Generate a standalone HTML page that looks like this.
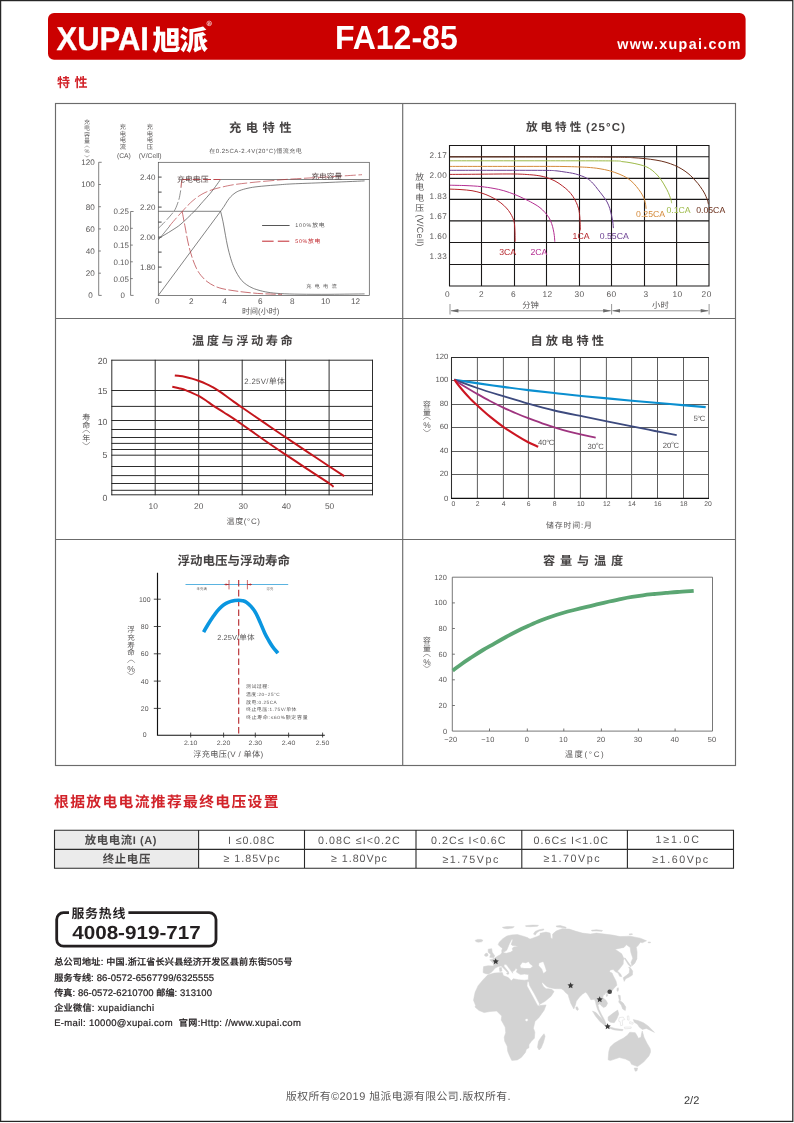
<!DOCTYPE html>
<html lang="zh-CN"><head><meta charset="utf-8"><title>XUPAI FA12-85 - 特性 2/2</title>
<style>html,body{margin:0;padding:0;background:#fff}body{width:794px;height:1123px;overflow:hidden;font-family:"Liberation Sans","Noto Sans CJK SC",sans-serif}svg{display:block;will-change:transform}text{font-family:"Liberation Sans","Noto Sans CJK SC",sans-serif;text-rendering:geometricPrecision}</style></head>
<body>
<svg width="794" height="1123" viewBox="0 0 794 1123" role="img" aria-label="XUPAI FA12-85 battery datasheet, page 2/2: characteristic curves">
<rect x="0.6" y="0.6" width="792.2" height="1120.8" fill="#fff" stroke="#262626" stroke-width="1.25"/>
<rect x="48" y="13" width="697.6" height="46.7" rx="6" ry="6" fill="#cb0000"/>
<g fill="#fff" font-weight="bold"><text stroke="#fff" stroke-width="0.3" stroke-linejoin="round" transform="translate(56.5 49.9) scale(1 1.11)" font-size="29.68" textLength="92.4" lengthAdjust="spacingAndGlyphs">XUPAI</text><text transform="translate(334.9 48.5) scale(1 1.095)" font-size="30.7" textLength="122.8" lengthAdjust="spacingAndGlyphs">FA12-85</text><text transform="translate(617.2 49.3) scale(1 1.04)" font-size="14.3" textLength="123.4" lengthAdjust="spacing">www.xupai.com</text></g>
<text transform="translate(152.6 49.7) scale(1 0.975)" x="0 27" font-size="28.4" font-weight="900" fill="#fff">旭派</text>
<circle cx="209.2" cy="23.4" r="2.3" fill="none" stroke="#fff" stroke-width="0.6"/><text x="209.2" y="24.7" font-size="3.6" font-weight="bold" fill="#fff" text-anchor="middle">R</text>
<g fill="#d2232a"><title>特性</title><text x="57 74.4" y="87.3" font-size="13" font-weight="bold">特性</text></g>
<g fill="none" stroke="#6b6b6b" stroke-width="1.15"><rect x="55.5" y="103.5" width="680" height="662"/><path d="M402.7 103.5V765.5M55.5 318.5H735.5M55.5 539.5H735.5"/></g>
<!-- chart 1: charge characteristics -->
<g fill="#454242"><title>充电特性</title><text x="229.1 245.8 262.5 279.2" y="131.6" font-size="12.3" font-weight="bold">充电特性</text></g>
<g fill="#595757"><title>在0.25CA-2.4V(20°C)恒流充电</title><text x="209.2" y="153.2" font-size="6">在</text><text x="215.71" y="153.20" font-size="6.00" letter-spacing="0.511">0.25CA-2.4V(20°C)</text><text x="276.16 282.67 289.18 295.69" y="153.2" font-size="6">恒流充电</text></g>
<g fill="#595757"><title>充电容量</title><text x="84 84 84 84" y="123.58 130.18 136.78 143.38" font-size="6">充电容量</text></g>
<path d="M84.70 147.66Q87.00 144.34 89.30 147.66M84.70 155.24Q87.00 158.56 89.30 155.24" fill="none" stroke="#595757" stroke-width="0.45"/>
<text x="87.00" y="153.40" font-size="5.6" fill="#595757" text-anchor="middle" >%</text>
<g fill="#595757"><title>充电电流</title><text x="119.85 119.85 119.85 119.85" y="128.74 135.59 142.44 149.29" font-size="6.3">充电电流</text></g>
<text x="123.90" y="157.50" font-size="6.8" fill="#595757" text-anchor="middle" >(CA)</text>
<g fill="#595757"><title>充电电压</title><text x="146.85 146.85 146.85 146.85" y="128.74 135.59 142.44 149.29" font-size="6.3">充电电压</text></g>
<text x="150.20" y="157.50" font-size="6.8" fill="#595757" text-anchor="middle" >(V/Cell)</text>
<g fill="none" stroke="#4d4d4d" stroke-width="0.7">
<rect x="158.3" y="162.3" width="211" height="133.1"/>
<path d="M158.3 177.1h3.3M158.3 192.1h3.3M158.3 207.1h3.3M158.3 222.1h3.3M158.3 237.1h3.3M158.3 252.1h3.3M158.3 267.1h3.3M158.3 282.1h3.3" stroke="#3c3c3c" stroke-width="0.95"/>
<path d="M101.7 162.3H98.7V295.4H101.7M98.7 273.2h2.2M98.7 251.0h2.2M98.7 228.9h2.2M98.7 206.7h2.2M98.7 184.5h2.2"/>
<path d="M133.6 211.5H130.6V295.4H133.6M130.6 278.6h2.2M130.6 261.8h2.2M130.6 245.1h2.2M130.6 228.3h2.2"/>
</g>
<text x="92.80" y="298.30" font-size="8.1" fill="#595757" text-anchor="end" >0</text>
<text x="94.80" y="276.12" font-size="8.1" fill="#595757" text-anchor="end" >20</text>
<text x="94.80" y="253.94" font-size="8.1" fill="#595757" text-anchor="end" >40</text>
<text x="94.80" y="231.76" font-size="8.1" fill="#595757" text-anchor="end" >60</text>
<text x="94.80" y="209.58" font-size="8.1" fill="#595757" text-anchor="end" >80</text>
<text x="94.80" y="187.40" font-size="8.1" fill="#595757" text-anchor="end" >100</text>
<text x="94.80" y="165.22" font-size="8.1" fill="#595757" text-anchor="end" >120</text>
<text x="124.90" y="298.30" font-size="7.9" fill="#595757" text-anchor="end" >0</text>
<text x="128.90" y="281.52" font-size="7.9" fill="#595757" text-anchor="end" >0.05</text>
<text x="128.90" y="264.74" font-size="7.9" fill="#595757" text-anchor="end" >0.10</text>
<text x="128.90" y="247.96" font-size="7.9" fill="#595757" text-anchor="end" >0.15</text>
<text x="128.90" y="231.18" font-size="7.9" fill="#595757" text-anchor="end" >0.20</text>
<text x="128.90" y="214.40" font-size="7.9" fill="#595757" text-anchor="end" >0.25</text>
<text x="155.50" y="180.00" font-size="8.0" fill="#595757" text-anchor="end" >2.40</text>
<text x="155.50" y="210.00" font-size="8.0" fill="#595757" text-anchor="end" >2.20</text>
<text x="155.50" y="240.00" font-size="8.0" fill="#595757" text-anchor="end" >2.00</text>
<text x="155.50" y="270.00" font-size="8.0" fill="#595757" text-anchor="end" >1.80</text>
<text x="157.30" y="304.40" font-size="8.2" fill="#595757" text-anchor="middle" >0</text>
<text x="191.30" y="304.40" font-size="8.2" fill="#595757" text-anchor="middle" >2</text>
<text x="224.60" y="304.40" font-size="8.2" fill="#595757" text-anchor="middle" >4</text>
<text x="260.20" y="304.40" font-size="8.2" fill="#595757" text-anchor="middle" >6</text>
<text x="292.40" y="304.40" font-size="8.2" fill="#595757" text-anchor="middle" >8</text>
<text x="325.60" y="304.40" font-size="8.2" fill="#595757" text-anchor="middle" >10</text>
<text x="355.60" y="304.40" font-size="8.2" fill="#595757" text-anchor="middle" >12</text>
<g fill="#595757"><title>时间(小时)</title><text x="242.01 250.02" y="313.8" font-size="8">时间</text><text x="258.03" y="313.80" font-size="8.00" letter-spacing="0.012">(</text><text x="260.71 268.72" y="313.8" font-size="8">小时</text><text x="276.73" y="313.80" font-size="8.00" letter-spacing="0.012">)</text></g>
<path d="M158.3 211.3H220.6" fill="none" stroke="#4d4d4d" stroke-width="0.7" />
<path d="M220.6 211.3C220.9 212.4 221.6 215.4 222.2 218.0C222.8 220.6 223.2 222.5 224.0 227.0C224.8 231.5 226.2 239.7 227.3 245.0C228.4 250.3 229.7 254.9 230.8 258.7C231.9 262.4 232.9 264.9 234.0 267.5C235.1 270.1 236.3 272.4 237.6 274.6C238.9 276.8 240.3 278.9 241.8 280.6C243.3 282.3 245.0 283.6 246.7 284.8C248.4 286.0 250.1 286.9 252.0 287.8C253.9 288.7 255.3 289.2 258.0 290.0C260.7 290.8 264.2 291.7 268.0 292.3C271.8 292.9 275.4 293.3 280.7 293.6C286.0 293.9 291.8 294.1 300.0 294.2C308.2 294.3 319.2 294.4 330.0 294.3C340.8 294.2 358.8 294.0 364.6 293.9" fill="none" stroke="#4d4d4d" stroke-width="0.7" />
<path d="M158.3 295.4L220.6 211.3C221.2 210.5 223.0 207.9 224.2 206.2C225.3 204.4 226.4 202.4 227.5 200.8C228.6 199.2 229.6 197.9 230.8 196.6C232.1 195.3 233.5 194.0 235.0 193.0C236.5 192.0 237.7 191.3 239.9 190.5C242.1 189.7 245.0 188.8 248.0 188.2C251.0 187.5 253.5 187.1 258.0 186.6C262.5 186.1 269.3 185.5 275.0 185.1C280.7 184.7 283.7 184.3 292.0 183.9C300.3 183.5 312.9 183.1 325.0 182.6C337.1 182.1 358.0 181.2 364.6 180.9" fill="none" stroke="#4d4d4d" stroke-width="0.7" />
<path d="M158.3 238.6C159.4 237.9 162.7 236.0 165.0 234.6C167.3 233.2 169.3 232.1 172.0 230.3C174.7 228.5 177.3 227.2 181.0 224.0C184.7 220.8 190.6 215.1 194.3 211.3C198.0 207.6 200.3 204.5 203.0 201.5C205.7 198.5 208.3 195.7 210.4 193.2C212.5 190.7 213.8 188.8 215.5 186.5C217.2 184.2 219.7 180.7 220.5 179.5H369.3" fill="none" stroke="#4d4d4d" stroke-width="0.7" />
<path d="M158.3 228.3C159.1 227.6 161.5 225.3 163.0 223.8C164.5 222.3 165.7 221.0 167.1 219.4C168.5 217.8 170.2 216.1 171.5 214.4C172.8 212.7 174.0 211.7 175.2 209.3C176.4 206.9 177.8 203.0 178.7 200.2C179.6 197.3 180.0 194.3 180.4 192.2C180.8 190.1 180.9 188.3 181.0 187.5" fill="none" stroke="#606060" stroke-width="0.7" stroke-dasharray="9.5 2.4"/>
<path d="M181.0 187.5L181.4 183.1L182.2 179.5" fill="none" stroke="#a33" stroke-width="0.8" />
<path d="M158.3 240.0L170.0 225.7" fill="none" stroke="#606060" stroke-width="0.7" />
<path d="M182.2 179.5H220.5" fill="none" stroke="#b3343a" stroke-width="0.9" stroke-dasharray="8 2.4"/>
<path d="M169.5 226.0C170.4 224.9 172.9 221.9 175.0 219.5C177.1 217.1 180.0 213.9 182.2 211.5C184.4 209.1 186.2 207.0 188.0 205.2C189.8 203.4 191.2 202.0 193.0 200.5C194.8 199.0 197.0 197.3 199.0 196.0C201.0 194.7 202.8 193.6 205.0 192.6C207.2 191.6 209.3 190.7 212.0 189.8C214.7 188.9 217.5 188.1 221.0 187.3C224.5 186.5 228.2 185.6 233.0 184.8C237.8 184.0 243.8 183.4 250.0 182.7C256.2 182.0 263.0 181.4 270.0 180.8C277.0 180.2 282.7 179.6 292.0 179.0C301.3 178.4 314.3 177.7 326.0 177.0C337.7 176.3 356.0 175.1 362.0 174.7" fill="none" stroke="#b3343a" stroke-width="0.65" stroke-dasharray="11 2.6"/>
<path d="M182.2 211.5C182.4 212.8 183.1 216.2 183.6 219.0C184.1 221.8 184.7 224.5 185.3 228.0C186.0 231.5 186.7 236.2 187.5 240.0C188.3 243.8 189.1 247.2 190.0 250.5C190.9 253.8 191.9 257.0 193.0 260.0C194.1 263.0 195.2 265.9 196.5 268.5C197.8 271.1 199.2 273.3 201.0 275.5C202.8 277.7 204.8 279.8 207.0 281.5C209.2 283.2 211.5 284.6 214.0 285.8C216.5 287.0 218.8 287.8 222.0 288.6C225.2 289.4 229.0 290.0 233.0 290.6C237.0 291.2 241.2 291.8 246.0 292.3C250.8 292.8 256.0 293.4 262.0 293.7C268.0 294.0 278.7 294.3 282.0 294.4" fill="none" stroke="#b3343a" stroke-width="0.7" stroke-dasharray="10 2.4"/>
<g fill="#5a4a4a"><title>充电电压</title><text x="177 184.9 192.8 200.7" y="181.7" font-size="7.8">充电电压</text></g>
<g fill="#5a4a4a"><title>充电容量</title><text x="311.4 319.1 326.8 334.5" y="178.8" font-size="7.6">充电容量</text></g>
<g fill="#595757"><title>充电电流</title><text x="306.2 314.6 323 331.4" y="287.8" font-size="5.2">充电电流</text></g>
<path d="M262.1 225.5H289.6" fill="none" stroke="#444" stroke-width="0.9" />
<g fill="#595757"><title>100%放电</title><text x="295.30" y="227.10" font-size="5.40" letter-spacing="0.765">100%</text><text x="312.17 318.74" y="227.1" font-size="5.8">放电</text></g>
<path d="M262.1 241.2H289.6" fill="none" stroke="#c1272d" stroke-width="1.0" stroke-dasharray="11.5 4.2"/>
<g fill="#c0272d"><title>50%放电</title><text x="295.30" y="243.20" font-size="5.40" letter-spacing="0.638">50%</text><text x="308.02 314.46" y="243.2" font-size="5.8">放电</text></g>
<!-- chart 2: discharge characteristics -->
<g fill="#454242"><title>放电特性</title><text x="525.9 540.5 555.1 569.7" y="131.3" font-size="11.6" font-weight="bold">放电特性</text></g>
<text x="586.00" y="131.00" font-size="11.4" fill="#454242" font-weight="bold" letter-spacing="1.2" >(25°C)</text>
<path d="M449.5 145.0V286.5M481.5 145.0V286.5M514.5 145.0V286.5M546.5 145.0V286.5M579.5 145.0V286.5M611.5 145.0V286.5M644.5 145.0V286.5M676.6 145.0V286.5M709.0 145.0V286.5M449.0 145.5H709.5M449.0 156.8H709.5M449.0 178.4H709.5M449.0 199.4H709.5M449.0 220.9H709.5M449.0 242.5H709.5M449.0 264.5H709.5M449.0 286.0H709.5" fill="none" stroke="#1a1818" stroke-width="1.1"/>
<text x="447.20" y="158.40" font-size="8.2" fill="#595757" text-anchor="end" letter-spacing="0.45" >2.17</text>
<text x="447.20" y="178.20" font-size="8.2" fill="#595757" text-anchor="end" letter-spacing="0.45" >2.00</text>
<text x="447.20" y="198.60" font-size="8.2" fill="#595757" text-anchor="end" letter-spacing="0.45" >1.83</text>
<text x="447.20" y="218.90" font-size="8.2" fill="#595757" text-anchor="end" letter-spacing="0.45" >1.67</text>
<text x="447.20" y="238.90" font-size="8.2" fill="#595757" text-anchor="end" letter-spacing="0.45" >1.60</text>
<text x="447.20" y="259.30" font-size="8.2" fill="#595757" text-anchor="end" letter-spacing="0.45" >1.33</text>
<text x="447.50" y="297.20" font-size="8.3" fill="#595757" text-anchor="middle" letter-spacing="0.5" >0</text>
<text x="481.50" y="297.20" font-size="8.3" fill="#595757" text-anchor="middle" letter-spacing="0.5" >2</text>
<text x="513.50" y="297.20" font-size="8.3" fill="#595757" text-anchor="middle" letter-spacing="0.5" >6</text>
<text x="547.50" y="297.20" font-size="8.3" fill="#595757" text-anchor="middle" letter-spacing="0.5" >12</text>
<text x="579.50" y="297.20" font-size="8.3" fill="#595757" text-anchor="middle" letter-spacing="0.5" >30</text>
<text x="611.50" y="297.20" font-size="8.3" fill="#595757" text-anchor="middle" letter-spacing="0.5" >60</text>
<text x="646.00" y="297.20" font-size="8.3" fill="#595757" text-anchor="middle" letter-spacing="0.5" >3</text>
<text x="677.60" y="297.20" font-size="8.3" fill="#595757" text-anchor="middle" letter-spacing="0.5" >10</text>
<text x="706.70" y="297.20" font-size="8.3" fill="#595757" text-anchor="middle" letter-spacing="0.5" >20</text>
<g fill="#595757"><title>放电电压</title><text x="415.25 415.25 415.25 415.25" y="179.73 190.18 200.63 211.08" font-size="8.9">放电电压</text></g>
<text x="419.90" y="214.40" font-size="9.0" fill="#595757" letter-spacing="0.3" transform="rotate(90 419.9 214.4) translate(0 2.9)">(V/Cell)</text>
<g fill="#595757"><title>分钟</title><text x="522.2 530.5" y="308.4" font-size="8.3">分钟</text></g>
<g fill="#595757"><title>小时</title><text x="652.1 660.4" y="308.4" font-size="8.3">小时</text></g>
<g stroke="#6a6a6a" stroke-width="0.7" fill="#6a6a6a"><path d="M450 304V314.5M611.6 304V314.5M709.1 304V314.5" fill="none"/><path d="M451 310.8H610.6M612.6 310.8H708.1" fill="none"/><path stroke="none" d="M450.4 310.8l8-1.7v3.4zM611.2 310.8l-8-1.7v3.4zM612 310.8l8-1.7v3.4zM708.7 310.8l-8-1.7v3.4z"/></g>
<path d="M450.0 189.1C451.8 189.2 457.3 189.3 461.0 189.6C464.7 189.9 468.6 190.1 472.0 190.7C475.4 191.3 478.5 192.1 481.5 193.0C484.5 193.9 487.4 195.2 490.1 196.4C492.8 197.7 495.2 199.0 497.5 200.5C499.8 202.0 502.0 203.7 503.8 205.4C505.6 207.1 507.2 208.8 508.5 210.5C509.8 212.2 510.8 214.0 511.7 215.6C512.5 217.2 513.1 218.4 513.6 220.0C514.1 221.6 514.4 222.8 514.6 225.0C514.8 227.2 514.9 230.2 515.0 233.0C515.1 235.8 515.1 240.2 515.1 241.7" fill="none" stroke="#b5242a" stroke-width="1.0" />
<text x="507.60" y="255.30" font-size="8.7" fill="#b5242a" text-anchor="middle" >3CA</text>
<path d="M450.0 185.2C452.7 185.3 460.8 185.4 466.0 185.6C471.2 185.8 476.6 186.1 481.1 186.6C485.6 187.1 489.2 187.6 493.0 188.3C496.8 189.0 500.1 189.6 503.8 190.7C507.5 191.8 511.2 193.1 515.0 194.6C518.8 196.1 523.2 198.3 526.4 199.8C529.6 201.3 531.7 202.5 534.0 203.8C536.3 205.1 538.2 206.2 540.0 207.7C541.8 209.1 543.5 210.8 545.0 212.5C546.5 214.2 548.0 216.1 549.1 217.9C550.2 219.7 550.9 221.6 551.6 223.5C552.3 225.4 552.8 227.2 553.2 229.2C553.7 231.2 554.0 233.4 554.3 235.5C554.6 237.6 554.7 240.7 554.8 241.7" fill="none" stroke="#b42e92" stroke-width="1.0" />
<text x="538.90" y="255.30" font-size="8.7" fill="#b42e92" text-anchor="middle" >2CA</text>
<path d="M450.0 174.4C455.0 174.4 469.3 174.3 480.0 174.2C490.7 174.1 505.9 173.9 514.4 174.0C522.9 174.1 526.7 174.5 531.0 174.8C535.3 175.1 537.4 175.5 540.0 175.9C542.6 176.3 543.9 176.7 546.4 177.5C548.9 178.3 552.3 179.6 555.0 181.0C557.7 182.4 560.5 184.4 562.7 186.1C565.0 187.8 566.8 189.3 568.5 191.0C570.2 192.7 571.6 194.5 572.9 196.4C574.2 198.3 575.3 200.4 576.3 202.5C577.2 204.6 578.0 206.4 578.6 208.8C579.2 211.2 579.5 213.4 579.8 217.0C580.1 220.6 580.3 228.2 580.4 230.4" fill="none" stroke="#b5242a" stroke-width="1.0" />
<text x="581.00" y="239.10" font-size="8.7" fill="#b5242a" text-anchor="middle" >1CA</text>
<path d="M450.0 170.3C458.3 170.3 483.9 170.3 500.0 170.3C516.1 170.3 537.1 170.3 546.4 170.4C555.7 170.5 553.1 170.6 556.0 170.8C558.9 171.1 560.8 171.4 564.0 171.9C567.2 172.4 571.5 172.9 575.3 173.9C579.1 174.9 583.8 176.6 586.7 178.2C589.7 179.8 591.1 181.5 593.0 183.4C594.9 185.3 596.3 187.5 598.0 189.6C599.7 191.7 601.5 193.9 603.0 196.0C604.5 198.1 606.0 199.9 607.1 202.0C608.2 204.1 609.0 206.2 609.8 208.5C610.5 210.8 611.1 213.3 611.6 215.6C612.1 217.8 612.5 219.9 612.8 222.0C613.1 224.1 613.3 227.1 613.4 228.1" fill="none" stroke="#6d4193" stroke-width="1.0" />
<text x="614.30" y="239.00" font-size="8.7" fill="#6d4193" text-anchor="middle" >0.55CA</text>
<path d="M450.0 166.4C461.7 166.4 501.0 166.4 520.0 166.4C539.0 166.4 552.9 166.3 564.0 166.5C575.1 166.7 580.9 167.0 586.7 167.3C592.5 167.7 595.2 168.0 599.0 168.6C602.8 169.2 606.0 169.8 609.3 170.7C612.6 171.6 616.0 172.8 619.0 174.0C622.0 175.2 625.0 176.6 627.5 178.2C630.0 179.8 631.9 181.6 633.8 183.5C635.7 185.4 637.4 187.7 638.8 189.6C640.2 191.5 641.3 193.1 642.3 194.8C643.2 196.5 644.0 198.2 644.5 199.8C645.0 201.4 645.3 203.0 645.6 204.5C645.9 206.0 646.0 208.1 646.1 208.8" fill="none" stroke="#d48a3a" stroke-width="1.0" />
<text x="650.60" y="217.00" font-size="8.7" fill="#d48a3a" text-anchor="middle" >0.25CA</text>
<path d="M450.0 160.8C465.0 160.8 513.1 160.8 540.0 160.8C566.9 160.8 597.9 160.8 611.6 160.9C625.3 161.0 618.6 161.2 622.0 161.6C625.4 161.9 628.4 162.3 632.0 163.0C635.6 163.7 640.5 164.8 643.4 165.7C646.3 166.6 647.6 167.4 649.5 168.5C651.4 169.6 653.0 170.9 654.7 172.5C656.4 174.1 658.1 175.9 659.6 177.8C661.1 179.7 662.5 181.9 663.7 183.9C664.9 185.9 666.0 187.9 667.0 189.8C668.0 191.7 668.8 193.6 669.4 195.2C670.0 196.8 670.5 198.2 670.9 199.5C671.3 200.8 671.6 202.6 671.7 203.2" fill="none" stroke="#9dba48" stroke-width="1.0" />
<text x="678.50" y="212.90" font-size="8.7" fill="#9dba48" text-anchor="middle" >0.1CA</text>
<path d="M450.0 156.9C468.3 156.9 531.5 156.9 560.0 156.9C588.5 156.9 608.5 157.1 620.7 157.2C632.9 157.3 629.0 157.5 633.0 157.7C637.0 157.9 640.7 158.2 644.5 158.6C648.3 159.0 652.4 159.5 656.0 160.1C659.6 160.7 662.9 161.4 666.0 162.3C669.1 163.2 671.9 164.2 674.5 165.3C677.1 166.4 679.6 167.8 681.9 169.1C684.1 170.4 686.1 171.9 688.0 173.4C689.9 174.9 691.5 176.5 693.2 178.2C694.9 179.9 696.5 181.7 698.0 183.6C699.5 185.5 701.1 187.8 702.3 189.6C703.5 191.4 704.2 192.7 705.0 194.2C705.8 195.7 706.3 197.3 706.8 198.6C707.3 199.8 707.6 200.8 707.9 201.7C708.2 202.6 708.3 203.9 708.4 204.3" fill="none" stroke="#6a2e1a" stroke-width="1.0" />
<text x="710.70" y="212.50" font-size="8.7" fill="#6a2e1a" text-anchor="middle" >0.05CA</text>
<!-- chart 3: temperature vs float life -->
<g fill="#454242"><title>温度与浮动寿命</title><text x="192 206.75 221.5 236.25 251 265.75 280.5" y="345.2" font-size="12.2" font-weight="bold">温度与浮动寿命</text></g>
<path d="M111.8 359.8V495.2M155.2 359.8V495.2M198.7 359.8V495.2M242.2 359.8V495.2M285.6 359.8V495.2M329.1 359.8V495.2M372.5 359.8V495.2M111.4 360.2H372.9M111.4 390.5H372.9M111.4 406.4H372.9M111.4 420.5H372.9M111.4 429.5H372.9M111.4 437.5H372.9M111.4 443.4H372.9M111.4 449.5H372.9M111.4 455.2H372.9M111.4 466.5H372.9M111.4 475.6H372.9M111.4 483.5H372.9M111.4 490.3H372.9M111.4 494.8H372.9" fill="none" stroke="#222" stroke-width="0.95"/>
<text x="107.50" y="363.60" font-size="8.8" fill="#595757" text-anchor="end" >20</text>
<text x="107.50" y="394.20" font-size="8.8" fill="#595757" text-anchor="end" >15</text>
<text x="107.50" y="424.80" font-size="8.8" fill="#595757" text-anchor="end" >10</text>
<text x="107.50" y="458.20" font-size="8.8" fill="#595757" text-anchor="end" >5</text>
<text x="107.50" y="500.50" font-size="8.8" fill="#595757" text-anchor="end" >0</text>
<text x="153.25" y="508.70" font-size="8.4" fill="#595757" text-anchor="middle" >10</text>
<text x="198.70" y="508.70" font-size="8.4" fill="#595757" text-anchor="middle" >20</text>
<text x="243.15" y="508.70" font-size="8.4" fill="#595757" text-anchor="middle" >30</text>
<text x="286.30" y="508.70" font-size="8.4" fill="#595757" text-anchor="middle" >40</text>
<text x="329.55" y="508.70" font-size="8.4" fill="#595757" text-anchor="middle" >50</text>
<g fill="#595757"><title>温度(°C)</title><text x="226.61 235.22" y="523.8" font-size="8">温度</text><text x="243.84" y="523.80" font-size="8.00" letter-spacing="0.616">(°C)</text></g>
<g fill="#595757"><title>寿命</title><text x="82.2 82.2" y="419.74 427.54" font-size="8">寿命</text></g>
<path d="M82.50 432.96Q86.20 427.64 89.90 432.96M82.50 442.04Q86.20 447.36 89.90 442.04" fill="none" stroke="#595757" stroke-width="0.55"/>
<g fill="#595757"><title>年</title><text x="82.2" y="441.04" font-size="8">年</text></g>
<g fill="#595757"><title>2.25V/单体</title><text x="244.30" y="383.90" font-size="7.80" letter-spacing="0.306">2.25V/</text><text x="268.69 276.99" y="383.9" font-size="8">单体</text></g>
<path d="M174.8 375.4C175.7 375.5 178.2 375.8 180.0 376.0C181.8 376.2 183.5 376.5 185.5 376.9C187.5 377.3 189.7 377.9 192.0 378.6C194.3 379.3 196.8 380.1 199.1 381.0C201.4 381.9 203.7 382.8 206.0 383.8C208.3 384.8 210.4 385.9 212.7 387.1C214.9 388.4 217.2 389.8 219.5 391.3C221.8 392.8 223.9 394.4 226.3 396.2C228.7 398.0 231.4 400.0 234.0 401.9C236.6 403.8 237.3 404.2 242.1 407.5C246.9 410.8 255.8 417.0 263.0 421.9C270.2 426.8 277.9 432.1 285.2 437.0C292.5 441.9 299.6 446.7 307.0 451.6C314.4 456.5 323.2 462.4 329.4 466.5C335.6 470.6 341.7 474.6 344.2 476.2" fill="none" stroke="#c4161c" stroke-width="2.0" />
<path d="M172.3 386.7C173.4 386.9 176.8 387.6 179.0 388.2C181.2 388.8 183.3 389.3 185.5 390.1C187.7 390.9 189.7 391.8 192.0 392.8C194.3 393.8 196.8 394.9 199.1 396.2C201.4 397.5 203.7 399.0 206.0 400.5C208.3 402.0 209.7 403.3 212.7 405.3C215.7 407.3 220.4 410.2 224.0 412.5C227.6 414.8 231.0 416.9 234.0 418.9C237.0 420.9 237.3 421.1 242.1 424.5C246.9 427.9 255.8 434.2 263.0 439.2C270.2 444.2 277.9 449.4 285.2 454.3C292.5 459.2 299.6 464.0 307.0 468.9C314.4 473.8 325.0 480.5 329.4 483.5C333.8 486.5 332.8 486.3 333.5 486.9" fill="none" stroke="#c4161c" stroke-width="2.0" />
<!-- chart 4: self discharge -->
<g fill="#454242"><title>自放电特性</title><text x="530.5 545.8 561.1 576.4 591.7" y="345.2" font-size="12.2" font-weight="bold">自放电特性</text></g>
<path d="M477.4 357.5V498.3M503.4 357.5V498.3M528.4 357.5V498.3M554.4 357.5V498.3M580.4 357.5V498.3M606.4 357.5V498.3M631.6 357.5V498.3M657.5 357.5V498.3M683.5 357.5V498.3M708.5 357.5V498.3M451.5 380.5H708.5M451.5 404.5H708.5M451.5 427.5H708.5M451.5 451.5H708.5M451.5 474.5H708.5" fill="none" stroke="#555" stroke-width="0.95"/>
<path d="M709 357.5H451.5V498.3" fill="none" stroke="#2e2e2e" stroke-width="1.05"/>
<path d="M451 498.3H709" fill="none" stroke="#111" stroke-width="1.35"/>
<text x="448.30" y="358.80" font-size="7.7" fill="#595757" text-anchor="end" >120</text>
<text x="448.30" y="381.80" font-size="7.7" fill="#595757" text-anchor="end" >100</text>
<text x="448.30" y="405.80" font-size="7.7" fill="#595757" text-anchor="end" >80</text>
<text x="448.30" y="428.80" font-size="7.7" fill="#595757" text-anchor="end" >60</text>
<text x="448.30" y="452.80" font-size="7.7" fill="#595757" text-anchor="end" >40</text>
<text x="448.30" y="475.80" font-size="7.7" fill="#595757" text-anchor="end" >20</text>
<text x="448.30" y="501.30" font-size="7.7" fill="#595757" text-anchor="end" >0</text>
<text x="453.30" y="505.80" font-size="6.8" fill="#595757" text-anchor="middle" >0</text>
<text x="477.70" y="505.80" font-size="6.8" fill="#595757" text-anchor="middle" >2</text>
<text x="503.70" y="505.80" font-size="6.8" fill="#595757" text-anchor="middle" >4</text>
<text x="528.70" y="505.80" font-size="6.8" fill="#595757" text-anchor="middle" >6</text>
<text x="554.70" y="505.80" font-size="6.8" fill="#595757" text-anchor="middle" >8</text>
<text x="580.70" y="505.80" font-size="6.8" fill="#595757" text-anchor="middle" >10</text>
<text x="606.70" y="505.80" font-size="6.8" fill="#595757" text-anchor="middle" >12</text>
<text x="631.90" y="505.80" font-size="6.8" fill="#595757" text-anchor="middle" >14</text>
<text x="657.80" y="505.80" font-size="6.8" fill="#595757" text-anchor="middle" >16</text>
<text x="683.80" y="505.80" font-size="6.8" fill="#595757" text-anchor="middle" >18</text>
<text x="708.00" y="505.80" font-size="6.8" fill="#595757" text-anchor="middle" >20</text>
<g fill="#595757"><title>储存时间:月</title><text x="546.11 554.83 563.54 572.26" y="527.7" font-size="7.9">储存时间</text><text x="580.98" y="527.70" font-size="7.90" letter-spacing="0.818">:</text><text x="583.99" y="527.7" font-size="7.9">月</text></g>
<g fill="#595757"><title>容量</title><text x="423 423" y="407.06 414.76" font-size="7.8">容量</text></g>
<path d="M423.20 419.96Q426.90 414.64 430.60 419.96M423.20 429.04Q426.90 434.36 430.60 429.04" fill="none" stroke="#595757" stroke-width="0.55"/>
<text x="426.90" y="428.00" font-size="8.4" fill="#595757" text-anchor="middle" >%</text>
<path d="M454.3 379.7C458.6 380.4 471.8 382.4 480.0 383.6C488.2 384.8 495.3 385.8 503.3 386.9C511.3 388.0 519.7 389.1 528.2 390.1C536.7 391.1 545.0 392.0 554.3 393.0C563.6 394.0 571.0 394.9 584.0 396.2C597.0 397.5 617.7 399.4 632.0 400.7C646.3 402.0 657.7 402.9 670.0 404.0C682.3 405.1 699.8 406.6 705.7 407.1" fill="none" stroke="#0a8fd0" stroke-width="2.1" />
<path d="M454.3 379.7C458.1 381.1 469.0 385.2 477.2 388.0C485.4 390.8 494.8 393.6 503.3 396.2C511.8 398.8 519.7 401.3 528.2 403.7C536.7 406.1 545.0 408.4 554.3 410.5C563.6 412.6 571.0 414.0 584.0 416.6C597.0 419.2 620.2 424.0 632.0 426.4C643.8 428.8 647.5 429.5 655.0 431.0C662.5 432.5 673.1 434.5 676.7 435.2" fill="none" stroke="#3d4a7e" stroke-width="1.8" />
<path d="M454.3 379.7C456.1 380.9 461.2 384.4 465.0 386.8C468.8 389.2 473.0 391.5 477.2 393.9C481.4 396.3 485.6 398.7 490.0 401.0C494.4 403.3 499.0 405.6 503.3 407.6C507.6 409.6 511.9 411.4 516.0 413.2C520.1 415.0 524.0 416.6 528.2 418.2C532.4 419.8 536.6 421.4 541.0 422.9C545.4 424.4 549.6 425.9 554.3 427.3C559.0 428.8 564.0 430.3 569.0 431.6C574.0 432.9 579.5 434.2 584.0 435.2C588.5 436.2 593.8 437.3 595.7 437.7" fill="none" stroke="#9e347f" stroke-width="1.8" />
<path d="M454.3 379.7C455.2 380.8 457.7 384.3 459.5 386.5C461.3 388.7 463.1 390.8 465.0 393.0C466.9 395.2 469.0 397.4 471.0 399.5C473.0 401.6 474.0 402.4 477.2 405.3C480.4 408.2 485.6 413.0 490.0 416.6C494.4 420.2 499.0 423.7 503.3 426.8C507.6 429.9 511.9 432.6 516.0 435.2C520.1 437.8 524.5 440.3 528.2 442.2C531.9 444.1 536.5 446.0 538.2 446.8" fill="none" stroke="#cc1622" stroke-width="2.1" />
<text x="538.00" y="445.30" font-size="7.7" fill="#595757" >40</text>
<text x="546.46" y="441.90" font-size="4.3" fill="#595757" >o</text>
<text x="548.66" y="445.30" font-size="7.7" fill="#595757" >C</text>
<text x="587.60" y="448.70" font-size="7.7" fill="#595757" >30</text>
<text x="596.06" y="445.30" font-size="4.3" fill="#595757" >o</text>
<text x="598.26" y="448.70" font-size="7.7" fill="#595757" >C</text>
<text x="662.80" y="447.60" font-size="7.7" fill="#595757" >20</text>
<text x="671.26" y="444.20" font-size="4.3" fill="#595757" >o</text>
<text x="673.46" y="447.60" font-size="7.7" fill="#595757" >C</text>
<text x="693.40" y="421.00" font-size="7.7" fill="#595757" >5</text>
<text x="697.58" y="417.60" font-size="4.3" fill="#595757" >o</text>
<text x="699.78" y="421.00" font-size="7.7" fill="#595757" >C</text>
<!-- chart 5: float voltage vs float life -->
<g fill="#454242"><title>浮动电压与浮动寿命</title><text x="177.4 189.9 202.4 214.9 227.4 239.9 252.4 264.9 277.4" y="565.3" font-size="12.5" font-weight="bold">浮动电压与浮动寿命</text></g>
<path d="M157.5 572.7V735.2H324.8" fill="none" stroke="#111" stroke-width="1.15"/>
<path d="M153.8 599.2H160.8M153.8 626.5H160.8M153.8 653.8H160.8M153.8 681.1H160.8M153.8 708.4H160.8M190.7 732.6V737.5M223.6 732.6V737.5M255.3 732.6V737.5M288.6 732.6V737.5M322.6 732.6V737.5" fill="none" stroke="#222" stroke-width="0.8"/>
<text x="144.80" y="601.70" font-size="6.9" fill="#595757" text-anchor="middle" letter-spacing="0.1" >100</text>
<text x="144.80" y="629.00" font-size="6.9" fill="#595757" text-anchor="middle" letter-spacing="0.1" >80</text>
<text x="144.80" y="656.30" font-size="6.9" fill="#595757" text-anchor="middle" letter-spacing="0.1" >60</text>
<text x="144.80" y="683.60" font-size="6.9" fill="#595757" text-anchor="middle" letter-spacing="0.1" >40</text>
<text x="144.80" y="710.90" font-size="6.9" fill="#595757" text-anchor="middle" letter-spacing="0.1" >20</text>
<text x="144.80" y="737.00" font-size="6.9" fill="#595757" text-anchor="middle" letter-spacing="0.1" >0</text>
<text x="190.70" y="744.80" font-size="6.3" fill="#595757" text-anchor="middle" textLength="13.6" lengthAdjust="spacingAndGlyphs">2.10</text>
<text x="223.60" y="744.80" font-size="6.3" fill="#595757" text-anchor="middle" textLength="13.6" lengthAdjust="spacingAndGlyphs">2.20</text>
<text x="255.30" y="744.80" font-size="6.3" fill="#595757" text-anchor="middle" textLength="13.6" lengthAdjust="spacingAndGlyphs">2.30</text>
<text x="288.60" y="744.80" font-size="6.3" fill="#595757" text-anchor="middle" textLength="13.6" lengthAdjust="spacingAndGlyphs">2.40</text>
<text x="322.60" y="744.80" font-size="6.3" fill="#595757" text-anchor="middle" textLength="13.6" lengthAdjust="spacingAndGlyphs">2.50</text>
<g fill="#595757"><title>浮充电压(V / 单体)</title><text x="193.13 201.68 210.23 218.78" y="757" font-size="8.2">浮充电压</text><text x="227.33" y="757.00" font-size="8.00" letter-spacing="0.300">(V / </text><text x="243.5 252.05" y="757" font-size="8.2">单体</text><text x="260.60" y="757.00" font-size="8.00" letter-spacing="0.300">)</text></g>
<g fill="#595757"><title>浮充寿命</title><text x="127.35 127.35 127.35 127.35" y="632 639.78 647.56 655.34" font-size="7.5">浮充寿命</text></g>
<path d="M127.40 662.76Q131.10 657.44 134.80 662.76M127.40 671.94Q131.10 677.26 134.80 671.94" fill="none" stroke="#595757" stroke-width="0.55"/>
<text x="131.10" y="671.50" font-size="8.6" fill="#595757" text-anchor="middle" >%</text>
<path d="M185.5 584.5H288.2" fill="none" stroke="#1292d2" stroke-width="0.7"/>
<g stroke="#b5262b" fill="#b5262b" stroke-width="0.7"><path d="M229 580V589.4M247.4 580V589.4" fill="none"/><path d="M229 584.5h-4.6M247.4 584.5h4.6" fill="none"/><path stroke="none" d="M228.6 584.5l-3-1.1v2.2zM247.8 584.5l3-1.1v2.2z"/><path d="M238.7 580V735.2" fill="none" stroke-width="1.1" stroke-dasharray="6.6 3.2"/></g>
<g fill="#595757"><title>未充满</title><text x="196.6 200.1 203.6" y="589.6" font-size="3.3">未充满</text></g>
<g fill="#595757"><title>过充</title><text x="266.6 270.1" y="589.6" font-size="3.3">过充</text></g>
<path d="M203.6 632.1C204.3 630.8 206.5 627.0 208.0 624.5C209.5 622.0 211.2 619.5 212.7 617.3C214.2 615.1 215.5 613.1 217.0 611.3C218.5 609.5 220.3 607.6 221.8 606.3C223.3 605.0 224.5 604.2 226.0 603.4C227.5 602.6 229.3 601.9 230.8 601.4C232.3 600.9 233.7 600.7 235.0 600.5C236.3 600.3 237.4 600.3 238.7 600.3C239.9 600.3 241.2 600.4 242.5 600.7C243.8 601.1 245.3 601.5 246.7 602.4C248.1 603.3 249.5 604.7 251.0 606.4C252.5 608.1 254.2 610.2 255.7 612.8C257.2 615.4 258.5 618.6 260.0 622.0C261.5 625.4 263.3 630.0 264.8 633.2C266.3 636.4 267.7 638.7 269.0 641.0C270.3 643.3 271.2 644.8 272.7 646.8C274.2 648.8 277.1 652.1 278.0 653.2" fill="none" stroke="#0a96e0" stroke-width="3.6" />
<g fill="#595757"><title>2.25V/单体</title><text x="217.20" y="640.40" font-size="7.40" letter-spacing="0.100">2.25V/</text><text x="239.19 247.09" y="640.4" font-size="7.6">单体</text></g>
<g fill="#595757"><title>测试过程:</title><text x="246 251.4 256.8 262.2" y="688.2" font-size="4.9">测试过程</text><text x="267.60" y="688.20" font-size="4.70" letter-spacing="0.499">:</text></g>
<g fill="#595757"><title>温度:20~25°C</title><text x="246 251.36" y="696.1" font-size="4.9">温度</text><text x="256.72" y="696.10" font-size="4.70" letter-spacing="0.462">:20~25°C</text></g>
<g fill="#595757"><title>放电:0.25CA</title><text x="246 251.4" y="704.1" font-size="4.9">放电</text><text x="256.80" y="704.10" font-size="4.70" letter-spacing="0.502">:0.25CA</text></g>
<g fill="#595757"><title>终止电压:1.75V/单体</title><text x="246 251.42 256.83 262.25" y="711.1" font-size="4.9">终止电压</text><text x="267.66" y="711.10" font-size="4.70" letter-spacing="0.516">:1.75V/</text><text x="286.17 291.58" y="711.1" font-size="4.9">单体</text></g>
<g fill="#595757"><title>终止寿命:≤60%额定容量</title><text x="246 251.65 257.31 262.96" y="718.8" font-size="4.9">终止寿命</text><text x="268.62" y="718.80" font-size="4.70" letter-spacing="0.754">:≤60%</text><text x="285.68 291.34 296.99 302.65" y="718.8" font-size="4.9">额定容量</text></g>
<!-- chart 6: capacity vs temperature -->
<g fill="#454242"><title>容量与温度</title><text x="543 560 577 594 611" y="564.6" font-size="12.2" font-weight="bold">容量与温度</text></g>
<path d="M452.3 577.2H712.5V731.1H452.3ZM452.3 602.9h2.6M452.3 628.5h2.6M452.3 654.2h2.6M452.3 679.8h2.6M452.3 705.5h2.6M489.5 731.1v-2.6M527.3 731.1v-2.6M563.8 731.1v-2.6M601.4 731.1v-2.6M638.4 731.1v-2.6M675.1 731.1v-2.6" fill="none" stroke="#555" stroke-width="0.8"/>
<text x="447.20" y="579.80" font-size="7.4" fill="#595757" text-anchor="end" letter-spacing="0.2" >120</text>
<text x="447.20" y="605.45" font-size="7.4" fill="#595757" text-anchor="end" letter-spacing="0.2" >100</text>
<text x="447.20" y="631.10" font-size="7.4" fill="#595757" text-anchor="end" letter-spacing="0.2" >80</text>
<text x="447.20" y="656.75" font-size="7.4" fill="#595757" text-anchor="end" letter-spacing="0.2" >60</text>
<text x="447.20" y="682.40" font-size="7.4" fill="#595757" text-anchor="end" letter-spacing="0.2" >40</text>
<text x="447.20" y="708.05" font-size="7.4" fill="#595757" text-anchor="end" letter-spacing="0.2" >20</text>
<text x="447.20" y="733.70" font-size="7.4" fill="#595757" text-anchor="end" letter-spacing="0.2" >0</text>
<text x="450.70" y="742.00" font-size="7.4" fill="#595757" text-anchor="middle" letter-spacing="0.2" >−20</text>
<text x="487.90" y="742.00" font-size="7.4" fill="#595757" text-anchor="middle" letter-spacing="0.2" >−10</text>
<text x="526.90" y="742.00" font-size="7.4" fill="#595757" text-anchor="middle" letter-spacing="0.2" >0</text>
<text x="563.40" y="742.00" font-size="7.4" fill="#595757" text-anchor="middle" letter-spacing="0.2" >10</text>
<text x="601.00" y="742.00" font-size="7.4" fill="#595757" text-anchor="middle" letter-spacing="0.2" >20</text>
<text x="638.00" y="742.00" font-size="7.4" fill="#595757" text-anchor="middle" letter-spacing="0.2" >30</text>
<text x="674.70" y="742.00" font-size="7.4" fill="#595757" text-anchor="middle" letter-spacing="0.2" >40</text>
<text x="712.10" y="742.00" font-size="7.4" fill="#595757" text-anchor="middle" letter-spacing="0.2" >50</text>
<g fill="#595757"><title>温度(°C)</title><text x="564.71 574.62" y="757" font-size="8.3">温度</text><text x="584.54" y="757.00" font-size="8.00" letter-spacing="1.616">(°C)</text></g>
<g fill="#595757"><title>容量</title><text x="423 423" y="643.06 650.76" font-size="7.8">容量</text></g>
<path d="M423.20 656.96Q426.90 651.64 430.60 656.96M423.20 664.84Q426.90 670.16 430.60 664.84" fill="none" stroke="#595757" stroke-width="0.55"/>
<text x="426.90" y="664.80" font-size="8.4" fill="#595757" text-anchor="middle" >%</text>
<path d="M452.7 670.6C454.2 669.5 458.8 666.0 462.0 663.7C465.2 661.4 468.5 659.3 472.0 657.0C475.5 654.7 479.2 652.3 483.0 650.0C486.8 647.7 490.9 645.6 494.7 643.4C498.5 641.2 502.2 639.1 506.0 637.0C509.8 634.9 513.6 632.9 517.4 631.0C521.1 629.1 524.7 627.5 528.5 625.8C532.3 624.1 536.2 622.3 540.0 620.8C543.8 619.3 547.2 618.0 551.0 616.7C554.8 615.4 558.9 614.1 562.7 613.0C566.5 611.9 570.0 611.0 574.0 610.0C578.0 609.0 582.7 607.9 586.7 606.9C590.7 605.9 594.2 605.1 598.0 604.2C601.8 603.3 605.5 602.4 609.3 601.5C613.0 600.6 616.7 599.9 620.5 599.1C624.3 598.3 628.2 597.5 632.0 596.9C635.8 596.3 639.2 595.8 643.0 595.3C646.8 594.8 650.9 594.4 654.7 594.0C658.5 593.6 662.2 593.2 666.0 592.9C669.8 592.6 672.8 592.4 677.4 592.0C682.0 591.6 691.0 591.0 693.7 590.8" fill="none" stroke="#5ba673" stroke-width="3.8" />
<!-- recommended final voltage table -->
<g fill="#d2232a"><title>根据放电电流推荐最终电压设置</title><text x="54" y="806.9" font-size="14.8" font-weight="bold" letter-spacing="1.33">根据放电电流推荐最终电压设置</text></g>
<rect x="54.5" y="830.3" width="144.1" height="37.9" fill="#ebebeb"/>
<path d="M54.5 830.3H733.5V868.2H54.5ZM54.5 849.4H733.5M198.6 830.3V868.2M304.5 830.3V868.2M416.0 830.3V868.2M521.8 830.3V868.2M627.4 830.3V868.2" fill="none" stroke="#2b2b2b" stroke-width="1.1"/>
<g fill="#4a4848"><title>放电电流I (A)</title><text x="84.7 96.69 108.68 120.67" y="844.2" font-size="11.4" font-weight="bold">放电电流</text><text x="132.66" y="844.20" font-size="11.00" font-weight="bold" letter-spacing="0.591">I (A)</text></g>
<g fill="#4a4848"><title>终止电压</title><text x="102.72 114.77 126.82 138.88" y="863.3" font-size="11.4" font-weight="bold">终止电压</text></g>
<text x="227.90" y="843.60" font-size="10.7" fill="#595757" textLength="46.6" lengthAdjust="spacing">I ≤0.08C</text>
<text x="318.05" y="843.60" font-size="10.7" fill="#595757" textLength="81.7" lengthAdjust="spacing">0.08C ≤I&lt;0.2C</text>
<text x="431.05" y="843.60" font-size="10.7" fill="#595757" textLength="74.5" lengthAdjust="spacing">0.2C≤ I&lt;0.6C</text>
<text x="533.45" y="843.60" font-size="10.7" fill="#595757" textLength="74.5" lengthAdjust="spacing">0.6C≤ I&lt;1.0C</text>
<text x="655.45" y="842.50" font-size="10.7" fill="#595757" textLength="43.5" lengthAdjust="spacing">1≥1.0C</text>
<text x="223.45" y="862.00" font-size="10.7" fill="#595757" textLength="56.1" lengthAdjust="spacing">≥ 1.85Vpc</text>
<text x="331.05" y="862.00" font-size="10.7" fill="#595757" textLength="55.7" lengthAdjust="spacing">≥ 1.80Vpc</text>
<text x="442.40" y="862.90" font-size="10.7" fill="#595757" textLength="56.0" lengthAdjust="spacing">≥1.75Vpc</text>
<text x="543.60" y="862.00" font-size="10.7" fill="#595757" textLength="56.0" lengthAdjust="spacing">≥1.70Vpc</text>
<text x="652.20" y="862.90" font-size="10.7" fill="#595757" textLength="56.0" lengthAdjust="spacing">≥1.60Vpc</text>
<!-- service hotline -->
<path d="M69 912.7H63.5a6.8 6.8 0 0 0 -6.8 6.8V939.4a6.8 6.8 0 0 0 6.8 6.8H209.2a6.8 6.8 0 0 0 6.8 -6.8V919.5a6.8 6.8 0 0 0 -6.8 -6.8H128.4" fill="none" stroke="#231f20" stroke-width="2.8"/>
<g fill="#231f20"><title>服务热线</title><text x="71.4 85.1 98.8 112.5" y="917.6" font-size="12.9" font-weight="bold">服务热线</text></g>
<text x="72.20" y="939.10" font-size="18.9" fill="#231f20" font-weight="bold" textLength="128.6" lengthAdjust="spacingAndGlyphs">4008-919-717</text>
<g fill="#231f20" stroke="#231f20" stroke-width="0.22"><title>总公司地址: 中国.浙江省长兴县经济开发区县前东街505号</title><text x="54.2" y="965.4" font-size="9.1" font-weight="500" letter-spacing="0.19">总公司地址</text><text x="100.65" y="965.40" font-size="9.50" letter-spacing="0.191">: </text><text x="106.31 115.6" y="965.4" font-size="9.1" font-weight="500">中国</text><text x="124.90" y="965.40" font-size="9.50" letter-spacing="0.191">.</text><text x="127.73" y="965.4" font-size="9.1" font-weight="500" letter-spacing="0.19">浙江省长兴县经济开发区县前东街</text><text x="267.09" y="965.40" font-size="9.50" letter-spacing="0.191">505</text><text x="283.51" y="965.4" font-size="9.1" font-weight="500">号</text></g>
<g fill="#231f20" stroke="#231f20" stroke-width="0.22"><title>服务专线: 86-0572-6567799/6325555</title><text x="54.2 63.43 72.65 81.88" y="980.8" font-size="9.1" font-weight="500">服务专线</text><text x="91.11" y="980.80" font-size="9.50" letter-spacing="0.127">: 86-0572-6567799/6325555</text></g>
<g fill="#231f20" stroke="#231f20" stroke-width="0.22"><title>传真: 86-0572-6210700 邮编: 313100</title><text x="54.2 63.35" y="995.8" font-size="9.1" font-weight="500">传真</text><text x="72.50" y="995.80" font-size="9.50" letter-spacing="0.050">: 86-0572-6210700 </text><text x="156.32 165.47" y="995.8" font-size="9.1" font-weight="500">邮编</text><text x="174.62" y="995.80" font-size="9.50" letter-spacing="0.050">: 313100</text></g>
<g fill="#231f20" stroke="#231f20" stroke-width="0.22"><title>企业微信: xupaidianchi</title><text x="54.2 63.62 73.03 82.45" y="1010.7" font-size="9.1" font-weight="500">企业微信</text><text x="91.87" y="1010.70" font-size="9.50" letter-spacing="0.317">: xupaidianchi</text></g>
<g fill="#231f20" stroke="#231f20" stroke-width="0.22"><title>E-mail: 10000@xupai.com  官网:Http: //www.xupai.com</title><text x="54.20" y="1026.20" font-size="9.50" letter-spacing="0.313">E-mail: 10000@xupai.com  </text><text x="178.85 188.27" y="1026.2" font-size="9.1" font-weight="500">官网</text><text x="197.68" y="1026.20" font-size="9.50" letter-spacing="0.313">:Http: //www.xupai.com</text></g>
<g fill="#595757"><title>版权所有©2019 旭派电源有限公司.版权所有.</title><text x="286.1 297.33 308.55 319.78" y="1100" font-size="10.8">版权所有</text><text x="331.01" y="1100.00" font-size="11.00" letter-spacing="0.427">©2019 </text><text x="369.21" y="1100" font-size="10.8" letter-spacing="0.427">旭派电源有限公司</text><text x="459.02" y="1100.00" font-size="11.00" letter-spacing="0.427">.</text><text x="462.51 473.73 484.96 496.19" y="1100" font-size="10.8">版权所有</text><text x="507.42" y="1100.00" font-size="11.00" letter-spacing="0.427">.</text></g>
<text x="684.00" y="1103.90" font-size="11.0" fill="#3a3a3a" >2/2</text>
<!-- world map -->
<g fill="#d3d3d3" stroke="#d3d3d3" stroke-width="0.5" stroke-linejoin="round"><title>World map</title>
<path d="M488.2 974.1L485.6 973.7L483.1 972.6L483.3 969.1L483.6 966.6L488.2 965.7L493.7 966.1L493.4 963.5L491.4 961.5L489.7 959.8L493.2 958.8L495.2 957.8L498.2 955.8L500.2 954.8L501.8 952.8L501.7 950.2L502.8 948.2L503.9 950.2L503.5 952.8L506.3 953.3L510.3 952.3L512.8 950.7L512.3 948.2L513.8 947.0L518.4 946.4L515.4 945.8L512.5 945.5L511.1 944.4L511.9 942.2L513.0 939.6L511.6 939.6L509.4 943.7L508.0 947.2L506.7 950.2L504.3 951.8L502.3 948.2L500.2 946.7L498.2 944.7L499.2 942.2L502.8 938.7L506.8 936.1L511.3 934.9L517.4 934.6L522.4 935.9L527.4 937.6L530.7 939.7L528.5 942.0L526.9 940.7L529.0 939.4L532.5 938.2L536.5 936.7L540.0 935.3L540.0 933.3L546.0 932.1L550.1 933.1L550.9 938.2L552.7 938.8L552.6 934.1L556.1 931.1L562.2 928.7L569.2 929.1L575.3 931.1L582.3 933.1L590.4 934.1L596.4 933.1L604.5 934.1L612.5 935.1L620.0 936.6L630.2 936.2L640.3 938.2L646.5 940.8L642.3 942.8L640.3 942.2L638.3 945.2L636.3 947.2L637.1 952.3L636.9 958.3L634.3 963.3L631.8 965.6L631.0 962.3L632.8 958.3L630.8 952.3L630.2 947.4L626.4 944.8L624.0 947.4L615.1 949.2L621.7 953.8L624.2 959.3L623.4 960.0L623.2 964.0L620.2 968.1L618.1 970.6L617.3 970.9L620.7 974.1L621.8 976.7L619.6 976.3L618.1 973.1L615.1 971.6L613.3 969.5L610.1 969.9L609.6 972.1L612.1 973.1L612.9 975.1L616.1 981.2L616.9 985.2L614.1 988.2L611.6 991.2L607.6 993.5L605.5 992.8L605.0 994.5L603.5 994.8L602.8 997.8L606.0 1000.3L607.6 1003.3L606.0 1006.4L603.5 1007.6L601.0 1005.4L599.5 1003.8L598.0 1005.3L599.0 1009.3L601.5 1014.4L604.5 1019.9L606.1 1024.0L604.5 1023.4L600.5 1015.4L597.5 1009.3L596.0 1004.3L595.5 1001.8L594.4 999.3L590.9 999.8L589.4 997.2L586.9 993.2L585.4 992.2L582.4 994.2L579.3 997.2L576.3 1001.3L575.3 1005.3L573.8 1008.9L570.8 1003.3L568.8 997.2L568.2 994.7L565.2 992.2L563.7 990.2L561.2 988.8L555.2 988.7L550.1 987.7L547.1 986.7L544.6 984.6L542.6 982.6L541.9 983.7L543.6 986.7L546.1 988.8L548.6 988.8L551.6 989.2L554.1 991.4L551.1 996.2L545.1 1001.3L539.0 1004.8L539.7 1004.1L534.5 994.0L529.6 985.5L528.7 981.4L527.3 981.8L527.0 986.1L532.0 995.2L537.4 1005.2L539.9 1006.5L539.2 1005.6L546.1 1004.9L544.1 1010.3L539.0 1017.4L535.0 1021.4L534.4 1024.1L533.4 1028.2L534.9 1032.2L534.4 1038.2L531.4 1041.3L528.9 1044.8L528.9 1047.8L526.4 1049.3L525.4 1052.4L521.3 1057.4L517.3 1059.9L511.8 1060.4L509.8 1056.4L507.7 1051.3L507.2 1046.3L504.7 1041.3L504.2 1037.2L505.7 1032.7L505.2 1027.2L503.2 1023.6L501.2 1020.1L501.7 1016.1L498.7 1013.1L496.7 1011.0L490.1 1011.5L484.1 1012.6L479.0 1010.5L475.0 1007.0L475.6 1005.4L473.5 1000.3L475.1 992.3L478.1 985.7L483.1 979.7L487.6 975.1L494.2 973.1L502.3 972.6L503.3 975.6L508.3 977.6L511.3 980.7L513.3 978.7L518.4 979.7L524.4 980.2L528.3 979.7L528.5 974.6L524.4 974.1L520.4 974.6L516.4 972.1L517.4 969.1L515.4 968.6L514.9 970.1L512.3 972.1L512.8 973.3L510.8 970.6L509.3 968.6L506.8 965.1L504.8 964.0L503.8 966.1L506.3 969.1L508.3 971.6L508.8 973.3L507.3 972.3L503.3 968.1L501.2 966.1L498.2 966.6L495.2 968.1L492.2 971.6L489.7 973.6Z"/>
<path d="M475.1 940.4L477.6 939.4L481.1 939.4L483.1 940.4L481.6 941.8L478.1 942.2L475.9 941.6ZM502.3 927.3L507.3 926.5L514.3 926.7L512.3 928.1L507.3 928.7L503.8 928.3ZM525.4 925.7L532.5 925.1L538.5 925.3L537.5 926.3L530.5 926.7L525.9 926.5ZM533.5 934.1L535.0 931.6L538.5 929.9L543.6 928.9L543.8 929.9L539.3 931.1L536.5 932.9L535.3 935.1ZM488.2 949.2L491.7 948.7L492.2 952.3L494.7 955.8L493.7 957.8L489.7 957.3L490.7 954.3L488.2 952.3ZM484.6 954.5L486.1 953.1L487.9 953.8L487.9 955.8L486.1 956.5L484.7 955.8ZM556.1 925.9L560.2 925.5L566.2 927.3L565.7 928.3L560.2 927.3L556.6 926.9ZM591.4 930.3L596.4 929.7L602.5 930.5L602.0 931.3L596.4 930.9L591.9 931.1ZM629.2 933.9L632.2 933.7L632.4 934.5L629.4 934.7ZM648.2 942.0L650.4 942.0L650.4 942.8L648.2 942.8ZM624.2 958.0L625.2 958.0L629.4 964.0L631.4 965.9L630.6 966.7L628.6 965.1ZM630.2 967.6L632.7 971.1L632.4 975.1L629.2 977.1L625.7 978.7L624.2 981.4L623.2 977.7L626.2 975.6L629.2 973.1L629.7 969.1L628.7 967.1ZM636.3 958.0L636.9 958.4L634.8 963.2L631.8 965.7L633.9 962.8ZM617.1 988.2L618.3 987.7L618.5 990.0L617.7 991.5L616.9 990.2ZM606.0 994.5L607.5 994.3L607.7 995.9L606.4 996.5ZM575.8 1007.1L577.3 1006.8L578.5 1009.3L577.5 1010.5L576.1 1009.3ZM592.5 1011.1L596.0 1012.6L601.1 1018.1L606.1 1024.2L605.1 1025.8L600.1 1021.7L595.5 1016.1ZM606.1 1025.7L615.2 1028.5L623.2 1029.6L622.4 1030.8L614.2 1029.9L606.6 1027.3ZM608.1 1017.1L613.2 1013.1L617.7 1010.1L618.8 1014.1L616.7 1019.1L614.2 1022.7L610.2 1022.2L608.1 1020.2ZM619.2 1000.0L623.2 1003.0L625.8 1007.1L625.3 1010.6L622.7 1009.1L621.2 1005.0L618.7 1002.0ZM618.3 995.1L620.2 995.5L620.6 1000.3L619.1 999.5ZM633.3 1019.6L638.4 1020.7L643.4 1022.7L648.4 1026.2L654.5 1032.4L650.5 1030.4L646.4 1028.4L642.4 1029.4L639.4 1027.2L637.4 1024.2L634.3 1022.2ZM544.0 1033.7L545.1 1036.2L543.5 1042.3L541.0 1048.3L539.0 1049.9L537.5 1047.3L538.5 1041.3L541.5 1036.7ZM506.7 973.1L508.9 973.1L508.3 974.3L506.9 974.1ZM499.4 967.7L501.5 967.5L501.9 971.1L499.8 971.5ZM629.8 1032.2L635.3 1032.7L637.4 1036.3L638.4 1038.3L640.9 1037.3L641.8 1032.4L642.3 1031.0L644.0 1037.3L647.0 1043.3L650.1 1048.4L650.6 1050.9L650.4 1052.5L648.9 1056.0L643.6 1062.1L637.5 1066.6L631.5 1064.3L630.0 1061.3L625.5 1059.1L619.4 1057.5L610.3 1060.6L608.1 1059.8L608.8 1051.5L610.2 1046.9L614.2 1043.3L619.2 1040.3L623.2 1038.3L627.3 1035.3ZM634.2 1068.0L637.6 1068.0L637.0 1070.8L635.2 1071.2Z"/>
</g>
<path d="M520.4 965.6L522.4 962.7L525.9 963.2L528.5 962.0L529.7 964.0L532.5 966.1L530.5 968.1L524.4 968.1L520.9 967.6ZM539.3 963.2L543.1 962.0L544.6 966.1L546.2 971.1L543.6 973.1L542.1 969.1L539.0 965.6ZM525.9 1019.1L527.4 1018.9L527.8 1020.6L526.4 1021.3L525.4 1020.3Z" fill="#fff" stroke="#fff" stroke-width="0.3" stroke-linejoin="round"/>
<path d="M619.2 1017.6L623.2 1017.1L624.8 1019.6L622.2 1020.2L622.7 1025.2L620.7 1025.7L620.2 1021.7L618.7 1021.2ZM627.3 1016.1L628.8 1015.9L629.1 1020.2L627.5 1019.9ZM629.8 1021.7L633.3 1022.7L632.8 1024.2L629.5 1023.4ZM624.3 1027.2L631.3 1027.0L631.1 1028.4L624.8 1028.8Z" fill="none" stroke="#dedede" stroke-width="0.6"/>
<path d="M495.7 958.2L496.6 960.2L498.8 960.5L497.2 962.0L497.6 964.2L495.7 963.1L493.8 964.2L494.2 962.0L492.6 960.5L494.8 960.2ZM570.6 982.3L571.5 984.3L573.7 984.6L572.1 986.1L572.5 988.3L570.6 987.2L568.7 988.3L569.1 986.1L567.5 984.6L569.7 984.3ZM599.7 996.2L600.6 998.2L602.8 998.5L601.2 1000.0L601.6 1002.2L599.7 1001.1L597.8 1002.2L598.2 1000.0L596.6 998.5L598.8 998.2ZM607.6 1023.2L608.5 1025.2L610.7 1025.5L609.1 1027.0L609.5 1029.2L607.6 1028.1L605.7 1029.2L606.1 1027.0L604.5 1025.5L606.7 1025.2Z" fill="#3a3a3a"/>
<circle cx="609.7" cy="991.7" r="2.3" fill="#474747"/>
</svg>
</body></html>
